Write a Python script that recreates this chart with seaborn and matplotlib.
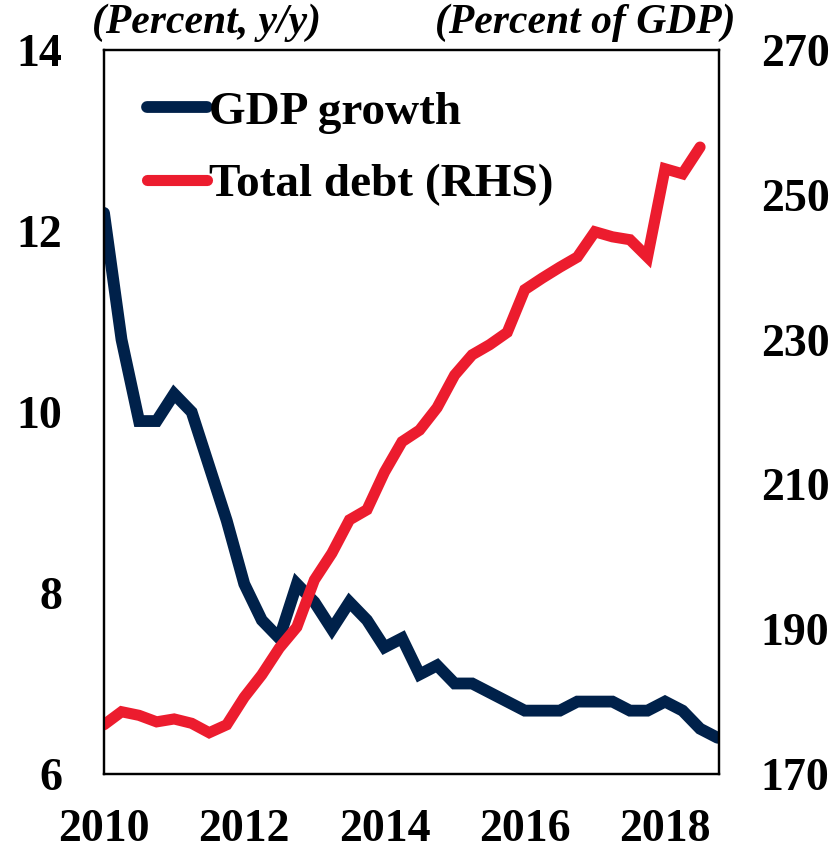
import numpy as np
import pandas as pd
import matplotlib
matplotlib.use("Agg")
import matplotlib.pyplot as plt
import seaborn as sns

# Quarterly series, 2010Q1 onward
gdp_growth = [12.2, 10.8, 9.9, 9.9, 10.2, 10.0, 9.4, 8.8,
              8.1, 7.7, 7.5, 8.1, 7.9, 7.6, 7.9, 7.7,
              7.4, 7.5, 7.1, 7.2, 7.0, 7.0, 6.9, 6.8,
              6.7, 6.7, 6.7, 6.8, 6.8, 6.8, 6.7, 6.7,
              6.8, 6.7, 6.5, 6.4]
total_debt = [176.8, 178.6, 178.1, 177.2, 177.6, 177.0, 175.7, 176.8,
              180.6, 183.7, 187.4, 190.3, 196.8, 200.5, 205.1, 206.5,
              211.7, 215.9, 217.5, 220.6, 225.1, 227.9, 229.3, 231.0,
              236.9, 238.5, 240.0, 241.4, 244.9, 244.2, 243.8, 241.4,
              253.6, 252.9, 256.6]
start_year = 2010
year_ticks = [2010, 2012, 2014, 2016, 2018]
left_ticks = [6, 8, 10, 12, 14]
right_ticks = [170, 190, 210, 230, 250, 270]

NAVY = "#00214A"
RED = "#EC1C2E"

gdp_df = pd.DataFrame({"t": start_year + np.arange(len(gdp_growth)) / 4,
                       "v": gdp_growth})
debt_df = pd.DataFrame({"t": start_year + np.arange(len(total_debt)) / 4,
                        "v": total_debt})

sns.set_style("white")
plt.rcParams["font.family"] = ["Liberation Serif", "DejaVu Serif"]
plt.rcParams["font.weight"] = "bold"
plt.rcParams["text.color"] = "black"
plt.rcParams["xtick.color"] = "black"
plt.rcParams["ytick.color"] = "black"
plt.rcParams["axes.labelcolor"] = "black"

fig = plt.figure(figsize=(8.32, 8.51), dpi=100)
ax = fig.add_axes([0.125, 0.0905, 0.7392, 0.8507])
ax2 = ax.twinx()

sns.lineplot(data=gdp_df, x="t", y="v", ax=ax, color=NAVY, lw=8.5,
             solid_capstyle="round", solid_joinstyle="miter",
             label="GDP growth", legend=False)
sns.lineplot(data=debt_df, x="t", y="v", ax=ax2, color=RED, lw=8,
             solid_capstyle="round", solid_joinstyle="miter",
             label="Total debt (RHS)", legend=False)

ax.set_xlim(2010, 2018.77)
ax.set_ylim(6, 14)
ax2.set_ylim(170, 270)
ax.set_xticks(year_ticks)
ax.set_yticks(left_ticks)
ax2.set_yticks(right_ticks)
ax.set_xlabel("")
ax.set_ylabel("")
ax2.set_ylabel("")

tick_font = dict(fontsize=33, fontweight="bold", color="black")
ax.set_xticklabels([str(y) for y in year_ticks], **tick_font)
ax.set_yticklabels([str(v) for v in left_ticks], **tick_font)
ax2.set_yticklabels([str(v) for v in right_ticks], **tick_font)
ax.tick_params(axis="y", length=0, pad=30)
ax.tick_params(axis="x", length=0, pad=25)
ax2.tick_params(axis="y", length=0, pad=30)

for a in (ax, ax2):
    for s in a.spines.values():
        s.set_visible(True)
        s.set_color("black")
        s.set_linewidth(1.6)

# Unit captions above each axis
fig.text(0.110, 0.973, "(Percent, y/y)", fontsize=30, fontstyle="italic",
         fontweight="bold", ha="left", va="center", color="black")
fig.text(0.884, 0.973, "(Percent of GDP)", fontsize=30, fontstyle="italic",
         fontweight="bold", ha="right", va="center", color="black")

handles = ax.get_lines() + ax2.get_lines()
leg = ax.legend(handles, [h.get_label() for h in handles], loc="upper left",
                bbox_to_anchor=(0.04, 0.97), frameon=False,
                prop=dict(size=34, weight="bold"), handlelength=1.25,
                handletextpad=0.05, labelspacing=0.62, borderaxespad=0)
for txt in leg.get_texts():
    txt.set_color("black")

fig.savefig("out.png", dpi=100)
